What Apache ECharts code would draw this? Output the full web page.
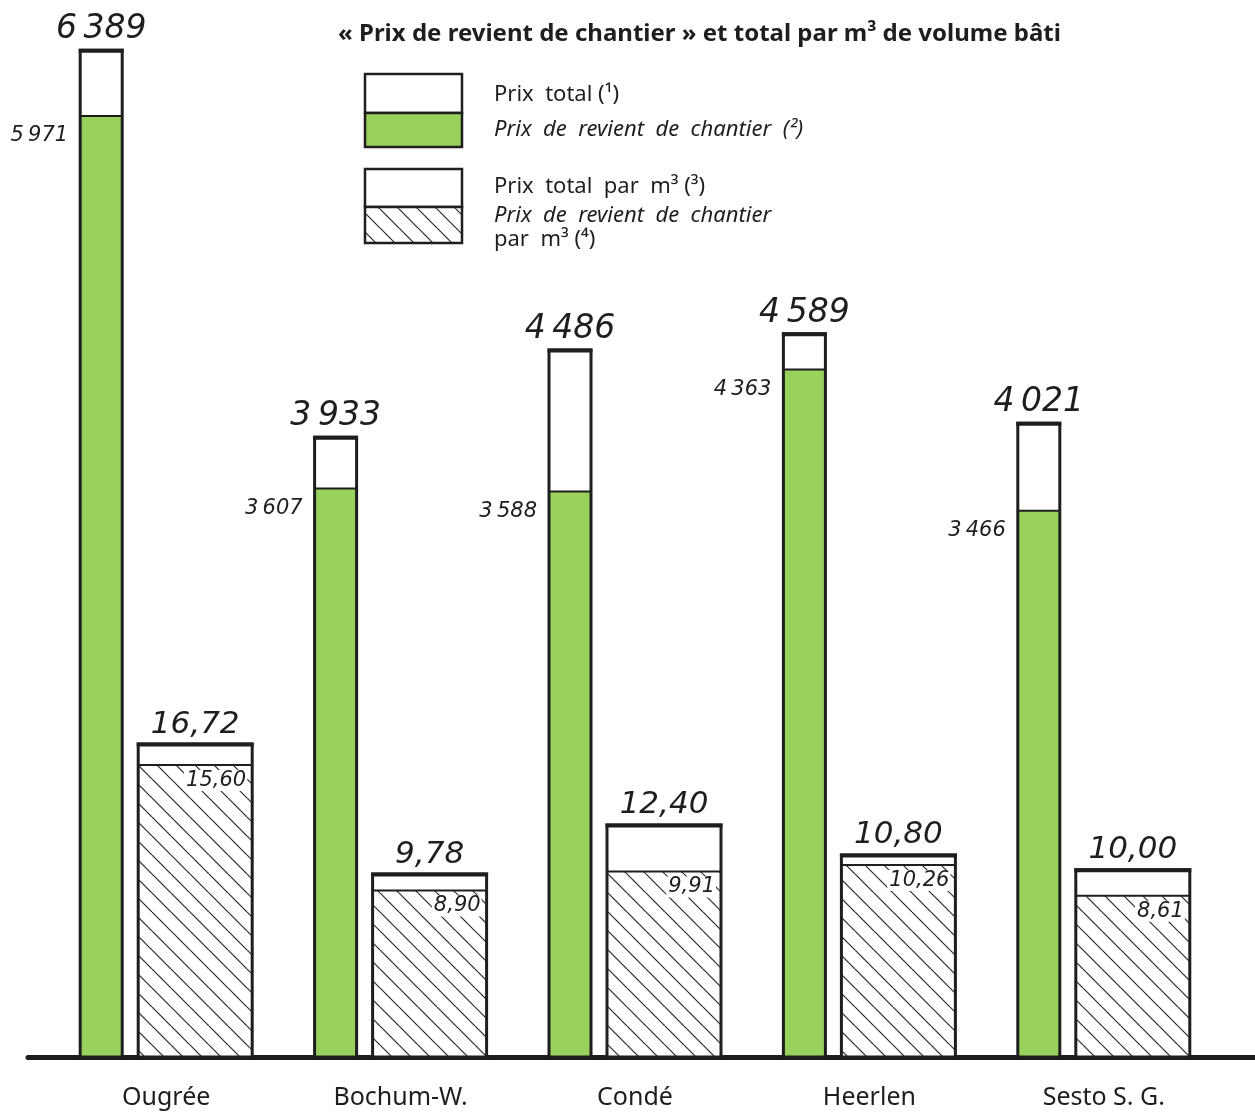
<!DOCTYPE html>
<html>
<head>
<meta charset="utf-8">
<script src="https://cdn.jsdelivr.net/npm/echarts@6/dist/echarts.min.js"></script>
<style>
html,body{margin:0;padding:0;background:#fff;}
#chart{width:1255px;height:1116px;}
</style>
</head>
<body>
<div id="chart"></div>
<script>
// ---- data ----
var categories = ['Ougrée', 'Bochum-W.', 'Condé', 'Heerlen', 'Sesto S. G.'];
var totalPrice = [6389, 3933, 4486, 4589, 4021];
var sitePrice = [5971, 3607, 3588, 4363, 3466];
var totalPerM3 = [16.72, 9.78, 12.40, 10.80, 10.00];
var sitePerM3 = [15.60, 8.90, 9.91, 10.26, 8.61];

var GREEN = '#98d25c';
var INK = '#1e1e1e';
var NUM_FONT = 'DejaVu Sans';
var TXT_FONT = 'Noto Sans';

function fmtInt(n) { return String(n).replace(/\B(?=(\d{3})+(?!\d))/g, '\u2009'); }
function fmtDec(n) { return n.toFixed(2).replace('.', ','); }

// hatch pattern
function makeHatch() {
  var s = 19;
  var c = document.createElement('canvas');
  c.width = s; c.height = s;
  var g = c.getContext('2d');
  g.fillStyle = '#fff'; g.fillRect(0, 0, s, s);
  g.strokeStyle = '#2a2a2a'; g.lineWidth = 1.2;
  [-s, 0, s].forEach(function (o) {
    g.beginPath(); g.moveTo(o, 0); g.lineTo(o + s, s); g.stroke();
  });
  return c;
}
var hatch = { image: makeHatch(), repeat: 'repeat' };

// draws one two-part bar (lower part = site cost, full height = total)
function makeRender(cfg) {
  return function (params, api) {
    var i = api.value(0), lower = api.value(1), total = api.value(2);
    var base = api.coord([i, 0]);
    var pLow = api.coord([i, lower]);
    var pTot = api.coord([i, total]);
    var w = cfg.width;
    var x0 = base[0] + cfg.offset - w / 2;
    var yB = base[1];
    var children = [
      { type: 'rect', shape: { x: x0, y: pTot[1], width: w, height: yB - pTot[1] }, style: { fill: '#fff' } },
      { type: 'rect', shape: { x: x0, y: pLow[1], width: w, height: yB - pLow[1] }, style: { fill: cfg.fill } },
      { type: 'line', shape: { x1: x0, y1: pLow[1], x2: x0 + w, y2: pLow[1] }, style: { stroke: INK, lineWidth: 2 } },
      { type: 'rect', shape: { x: x0, y: pTot[1], width: w, height: yB - pTot[1] }, style: { fill: null, stroke: INK, lineWidth: 3 } },
      { type: 'line', shape: { x1: x0 - 1.5, y1: pTot[1] + 0.5, x2: x0 + w + 1.5, y2: pTot[1] + 0.5 }, style: { stroke: INK, lineWidth: 4 } },
      { type: 'text', style: {
          text: cfg.topText(params.dataIndex), x: x0 + w / 2, y: pTot[1] - 4,
          align: 'center', verticalAlign: 'bottom',
          fontFamily: NUM_FONT, fontStyle: 'italic', fontSize: cfg.topSize, fill: INK } }
    ];
    if (cfg.lowerInside) {
      children.push({ type: 'text', style: {
          text: cfg.lowText(params.dataIndex), x: x0 + w - 5, y: pLow[1] + 5,
          align: 'right', verticalAlign: 'top', backgroundColor: '#fff', padding: [0, 1, 0, 2],
          fontFamily: NUM_FONT, fontStyle: 'italic', fontSize: 21, fill: INK } });
    } else {
      children.push({ type: 'text', style: {
          text: cfg.lowText(params.dataIndex), x: x0 - 12, y: pLow[1] + 20,
          align: 'right', verticalAlign: 'middle',
          fontFamily: NUM_FONT, fontStyle: 'italic', fontSize: 21, fill: INK } });
    }
    return { type: 'group', children: children };
  };
}

var chart = echarts.init(document.getElementById('chart'), null, { renderer: 'canvas' });

var option = {
  animation: false,
  backgroundColor: '#fff',
  title: {
    text: '« Prix de revient de chantier » et total par m³ de volume bâti',
    left: 333, top: 17,
    textStyle: { fontFamily: TXT_FONT, fontSize: 24, fontWeight: 'bold', color: INK }
  },
  grid: [
    { left: 49, right: 34, top: 9, bottom: 59, containLabel: false },
    { left: 28, right: 0, top: 9, bottom: 59, containLabel: false }
  ],
  xAxis: [
    {
      type: 'category', gridIndex: 0, data: categories,
      axisTick: { show: false },
      axisLine: { show: false },
      axisLabel: { margin: 28, fontFamily: TXT_FONT, fontSize: 25, color: INK, interval: 0 }
    },
    {
      type: 'value', gridIndex: 1, min: 0, max: 1,
      splitLine: { show: false }, axisTick: { show: false }, axisLabel: { show: false },
      axisLine: { show: true, lineStyle: { color: INK, width: 5 } }
    }
  ],
  yAxis: [
    { type: 'value', gridIndex: 0, min: 0, max: 6650, show: false },
    { type: 'value', gridIndex: 0, min: 0, max: 56, show: false },
    { type: 'value', gridIndex: 1, min: 0, max: 1, show: false }
  ],
  series: [
    {
      type: 'custom', name: 'Prix', xAxisIndex: 0, yAxisIndex: 0,
      encode: { x: 0, y: [1, 2] },
      data: categories.map(function (c, i) { return [i, sitePrice[i], totalPrice[i]]; }),
      renderItem: makeRender({
        width: 42, offset: -65, fill: GREEN, topSize: 33, lowerInside: false,
        topText: function (k) { return fmtInt(totalPrice[k]); },
        lowText: function (k) { return fmtInt(sitePrice[k]); }
      })
    },
    {
      type: 'custom', name: 'Prix par m³', xAxisIndex: 0, yAxisIndex: 1,
      encode: { x: 0, y: [1, 2] },
      data: categories.map(function (c, i) { return [i, sitePerM3[i], totalPerM3[i]]; }),
      renderItem: makeRender({
        width: 114, offset: 29, fill: hatch, topSize: 31, lowerInside: true,
        topText: function (k) { return fmtDec(totalPerM3[k]); },
        lowText: function (k) { return fmtDec(sitePerM3[k]); }
      })
    }
  ],
  graphic: [
    { type: 'rect', shape: { x: 365, y: 74, width: 97, height: 39 }, style: { fill: '#fff', stroke: INK, lineWidth: 2.5 } },
    { type: 'rect', shape: { x: 365, y: 113, width: 97, height: 34 }, style: { fill: GREEN, stroke: INK, lineWidth: 2.5 } },
    { type: 'rect', shape: { x: 365, y: 169, width: 97, height: 38 }, style: { fill: '#fff', stroke: INK, lineWidth: 2.5 } },
    { type: 'rect', shape: { x: 365, y: 207, width: 97, height: 36 }, style: { fill: hatch, stroke: INK, lineWidth: 2.5 } },
    { type: 'text', x: 494, y: 95, style: { text: 'Prix  total (¹)', fontFamily: TXT_FONT, fontSize: 22, fill: INK, verticalAlign: 'middle' } },
    { type: 'text', x: 494, y: 130, style: { text: 'Prix  de  revient  de  chantier  (²)', fontFamily: TXT_FONT, fontStyle: 'italic', fontSize: 22, fill: INK, verticalAlign: 'middle' } },
    { type: 'text', x: 494, y: 187, style: { text: 'Prix  total  par  m³ (³)', fontFamily: TXT_FONT, fontSize: 22, fill: INK, verticalAlign: 'middle' } },
    { type: 'text', x: 494, y: 216, style: { text: 'Prix  de  revient  de  chantier', fontFamily: TXT_FONT, fontStyle: 'italic', fontSize: 22, fill: INK, verticalAlign: 'middle' } },
    { type: 'text', x: 494, y: 240, style: { text: 'par  m³ (⁴)', fontFamily: TXT_FONT, fontSize: 22, fill: INK, verticalAlign: 'middle' } }
  ]
};
chart.setOption(option);
</script>
</body>
</html>
